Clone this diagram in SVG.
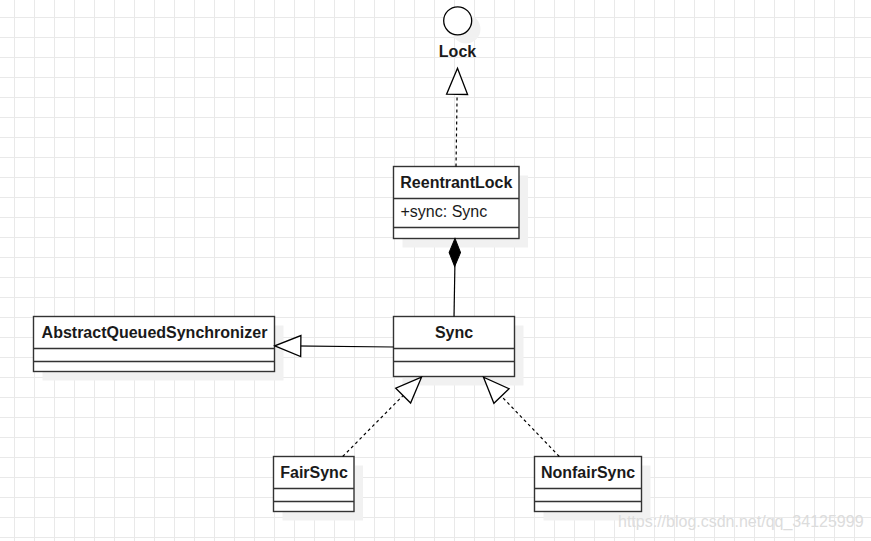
<svg xmlns="http://www.w3.org/2000/svg" width="871" height="541" viewBox="0 0 871 541">
  <defs>
    <pattern id="grid" patternUnits="userSpaceOnUse" x="14" y="17" width="20" height="20">
      <path d="M0 0.5 H20 M0.5 0 V20" fill="none" stroke="#e9e9e9" stroke-width="1"/>
    </pattern>
    <polygon id="tri" points="0,0 -26,-10.5 -26,10.5" fill="#ffffff" stroke="#000000" stroke-width="1.3" stroke-linejoin="miter"/>
    <polygon id="dia" points="0,0 -14,-5.7 -28,0 -14,5.7" fill="#000000" stroke="#000000" stroke-width="1"/>
  </defs>
  <style>
    .box { fill: #ffffff; stroke: #333333; stroke-width: 1.4; }
    .shadow { fill: #f1f1f1; stroke: none; }
    .div { stroke: #333333; stroke-width: 1.4; fill: none; }
    .title { font-family: "Liberation Sans", Arial, sans-serif; font-size: 16px; font-weight: bold; fill: #1a1a1a; text-anchor: middle; }
    .attr { font-family: "Liberation Sans", Arial, sans-serif; font-size: 16px; fill: #1a1a1a; }
    .edge { fill: none; stroke: #000000; stroke-width: 1.2; }
    .dash { stroke-dasharray: 3 3; }
    .wm { font-family: "Liberation Sans", Arial, sans-serif; font-size: 16px; fill: #dcdcdc; }
  </style>
  <rect x="0" y="0" width="871" height="541" fill="#ffffff"/>
  <rect x="0" y="0" width="871" height="541" fill="url(#grid)"/>

  <g id="Lock">
    <circle class="shadow" cx="466" cy="29" r="14.5"/>
    <circle cx="457.7" cy="20.8" r="14" fill="#ffffff" stroke="#000000" stroke-width="1.3"/>
    <text class="title" x="457.5" y="57">Lock</text>
  </g>

  <g id="ReentrantLock">
    <rect class="shadow" x="402.5" y="175.5" width="125.5" height="72"/>
    <rect class="box" x="393.5" y="166.5" width="125.5" height="72"/>
    <line class="div" x1="393.5" y1="198.5" x2="519" y2="198.5"/>
    <line class="div" x1="393.5" y1="227.5" x2="519" y2="227.5"/>
    <text class="title" x="456.3" y="188">ReentrantLock</text>
    <text class="attr" x="400.5" y="217">+sync: Sync</text>
  </g>

  <g id="AbstractQueuedSynchronizer">
    <rect class="shadow" x="42.5" y="325.5" width="241" height="55"/>
    <rect class="box" x="33.5" y="316.5" width="241" height="55"/>
    <line class="div" x1="33.5" y1="348.5" x2="274.5" y2="348.5"/>
    <line class="div" x1="33.5" y1="361.5" x2="274.5" y2="361.5"/>
    <text class="title" x="154.5" y="338">AbstractQueuedSynchronizer</text>
  </g>

  <g id="Sync">
    <rect class="shadow" x="402.5" y="325.5" width="121" height="60"/>
    <rect class="box" x="393.5" y="316.5" width="121" height="60"/>
    <line class="div" x1="393.5" y1="348.5" x2="514.5" y2="348.5"/>
    <line class="div" x1="393.5" y1="361.5" x2="514.5" y2="361.5"/>
    <text class="title" x="454" y="338">Sync</text>
  </g>

  <g id="FairSync">
    <rect class="shadow" x="282.5" y="465.5" width="80.5" height="55"/>
    <rect class="box" x="273.5" y="456.5" width="80.5" height="55"/>
    <line class="div" x1="273.5" y1="488.5" x2="354" y2="488.5"/>
    <line class="div" x1="273.5" y1="501.5" x2="354" y2="501.5"/>
    <text class="title" x="314" y="478">FairSync</text>
  </g>

  <g id="NonfairSync">
    <rect class="shadow" x="543.5" y="465.5" width="107" height="55"/>
    <rect class="box" x="534.5" y="456.5" width="107" height="55"/>
    <line class="div" x1="534.5" y1="488.5" x2="641.5" y2="488.5"/>
    <line class="div" x1="534.5" y1="501.5" x2="641.5" y2="501.5"/>
    <text class="title" x="588" y="478">NonfairSync</text>
  </g>

  <g id="connectors">
    <path class="edge dash" d="M456,166.5 L457.2,88"/>
    <path class="edge" d="M454,316.5 L455,260"/>
    <path class="edge" d="M393.5,347 L290,345.9"/>
    <path class="edge dash" d="M342.7,456.5 L410,388.5"/>
    <path class="edge dash" d="M559.3,456.5 L494,388.5"/>
    <use href="#tri" transform="translate(457.5,68.3) rotate(-89.1)"/>
    <use href="#dia" transform="translate(455,238.5) rotate(-89.27)"/>
    <use href="#tri" transform="translate(274.8,345.8) rotate(180.58)"/>
    <use href="#tri" transform="translate(421.5,377.2) rotate(-45.18)"/>
    <use href="#tri" transform="translate(483.5,377.2) rotate(-133.71)"/>
  </g>

  <text class="wm" x="618" y="527">https://blog.csdn.net/qq_34125999</text>
</svg>
